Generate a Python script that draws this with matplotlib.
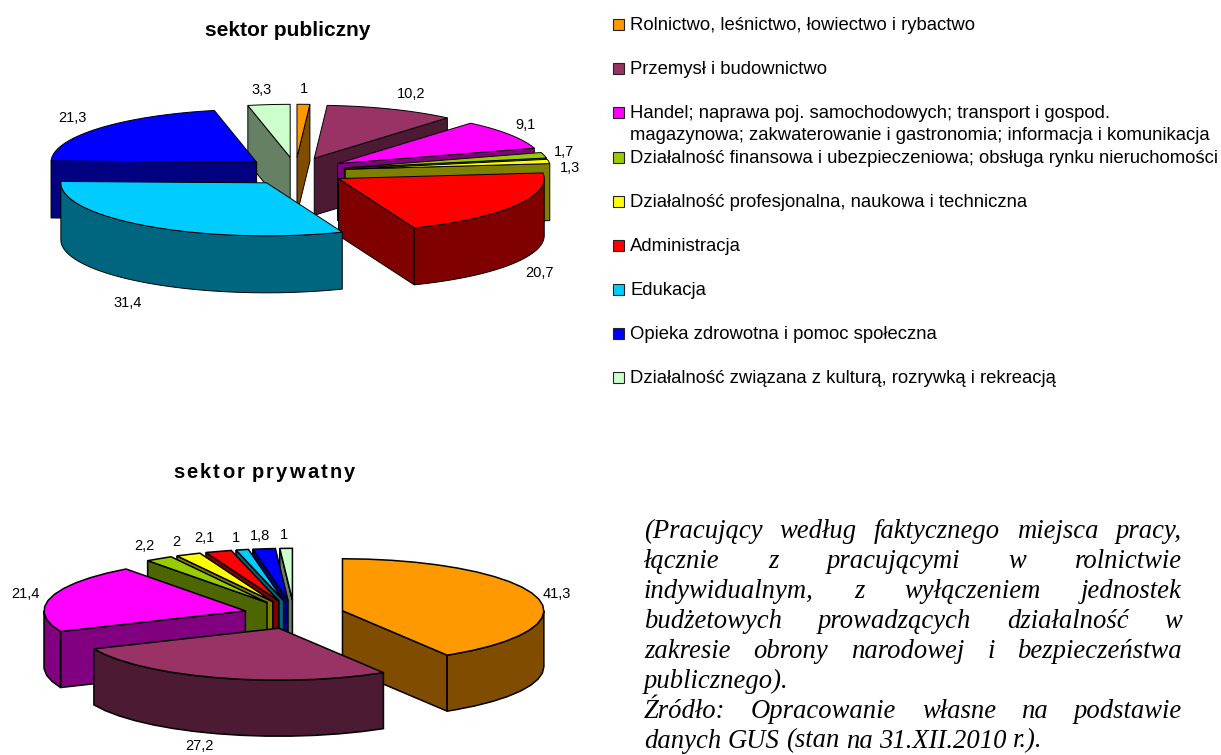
# -*- coding: utf-8 -*-
import numpy as np
import matplotlib
matplotlib.use("Agg")
import matplotlib.pyplot as plt
from matplotlib.colors import to_rgb
from matplotlib.patches import Polygon, Rectangle

plt.rcParams['font.family'] = ['Liberation Sans', 'DejaVu Sans']

categories = [
    "Rolnictwo, leśnictwo, łowiectwo i rybactwo",
    "Przemysł i budownictwo",
    "Handel; naprawa poj. samochodowych; transport i gospod.\nmagazynowa; zakwaterowanie i gastronomia; informacja i komunikacja",
    "Działalność finansowa i ubezpieczeniowa; obsługa rynku nieruchomości",
    "Działalność profesjonalna, naukowa i techniczna",
    "Administracja",
    "Edukacja",
    "Opieka zdrowotna i pomoc społeczna",
    "Działalność związana z kulturą, rozrywką i rekreacją",
]
colors = ["#FF9900", "#993366", "#FF00FF", "#99CC00", "#FFFF00",
          "#FF0000", "#00CCFF", "#0000FF", "#CCFFCC"]

public_values = [1, 10.2, 9.1, 1.7, 1.3, 20.7, 31.4, 21.3, 3.3]
public_labels = ["1", "10,2", "9,1", "1,7", "1,3", "20,7", "31,4", "21,3", "3,3"]
private_values = [41.3, 27.2, 21.4, 2.2, 2, 2.1, 1, 1.8, 1]
private_labels = ["41,3", "27,2", "21,4", "2,2", "2", "2,1", "1", "1,8", "1"]

# layout, in pixels of the picture
public_label_xy = [(304, 89), (411, 94), (526, 125), (564, 152), (570, 168),
                   (539, 273), (128, 303), (72, 118), (262, 90)]
private_label_xy = [(557, 594), (199, 746), (25, 594), (144, 546), (176, 542),
                    (204, 538), (236, 538), (260, 536), (284, 535)]
legend_y = [24, 68, 112, 157, 201, 245, 289, 333, 377]

note_lines = [
    ("(Pracujący według faktycznego miejsca pracy,", True),
    ("łącznie z pracującymi w rolnictwie", True),
    ("indywidualnym, z wyłączeniem jednostek", True),
    ("budżetowych prowadzących działalność w", True),
    ("zakresie obrony narodowej i bezpieczeństwa", True),
    ("publicznego).", False),
    ("Źródło: Opracowanie własne na podstawie", True),
    ("danych GUS (stan na 31.XII.2010 r.).", False),
]


def pt(center, rx, ry, deg):
    a = np.radians(deg)
    return np.array([center[0] + rx * np.sin(a), center[1] - ry * np.cos(a)])


def draw_pie(ax, values, cx, cy, rx, ry, depth, explode, step, lw):
    edges = np.cumsum([0] + list(values)) / sum(values) * 360
    order = sorted(range(len(values)),
                   key=lambda i: -np.cos(np.radians((edges[i] + edges[i + 1]) / 2)))
    for i in order:
        t0, t1 = edges[i], edges[i + 1]
        mid = (t0 + t1) / 2
        apex = pt((cx, cy), rx * explode[0], ry * explode[1], mid)
        top = np.array(colors_rgb[i])
        side = top * 0.5
        down = np.array([0, depth])
        arc = [pt(apex, rx, ry, d) for d in list(np.arange(t0, t1, step)) + [t1]]

        # side faces, only those turned to the viewer
        if np.sin(np.radians(t0)) < 0:
            face = [apex, arc[0], arc[0] + down, apex + down]
            ax.add_patch(Polygon(face, fc=side, ec='k', lw=lw))
        if np.sin(np.radians(t1)) > 0:
            face = [apex, arc[-1], arc[-1] + down, apex + down]
            ax.add_patch(Polygon(face, fc=side, ec='k', lw=lw))
        lo, hi = max(t0, 90), min(t1, 270)
        if lo < hi:
            front = [pt(apex, rx, ry, d) for d in list(np.arange(lo, hi, step)) + [hi]]
            face = front + [p + down for p in front[::-1]]
            ax.add_patch(Polygon(face, fc=side, ec='k', lw=lw))

        ax.add_patch(Polygon([apex] + arc, fc=top, ec='k', lw=lw))


def draw_justified(ax, fig, text, x0, x1, y, justify, **kw):
    words = text.split(" ")
    renderer = fig.canvas.get_renderer()
    items = [ax.text(x0, y, w, va='baseline', ha='left', **kw) for w in words]
    widths = [t.get_window_extent(renderer).width for t in items]
    space = 6.4
    if justify:
        space = (x1 - x0 - sum(widths)) / (len(words) - 1)
    x = x0
    for t, w in zip(items, widths):
        t.set_x(x)
        x += w + space


def draw_spaced(ax, fig, text, x0, x1, y, word_gap, **kw):
    # title with wider letter spacing, one glyph at a time
    renderer = fig.canvas.get_renderer()
    glyphs = []
    x = 0
    for word in text.split(" "):
        for ch in word:
            t = ax.text(x0, y, ch, ha='left', va='baseline', **kw)
            w = t.get_window_extent(renderer).width
            glyphs.append((t, x, w))
            x += w
        x += word_gap
    x -= word_gap
    gap = (x1 - x0 - x) / (len(glyphs) - 1)
    for i, (t, pos, w) in enumerate(glyphs):
        t.set_x(x0 + pos + i * gap)


colors_rgb = [to_rgb(c) for c in colors]

fig = plt.figure(figsize=(12.21, 7.55), dpi=100)
ax = fig.add_axes([0, 0, 1, 1])
ax.set_xlim(0, 1221)
ax.set_ylim(755, 0)
ax.axis('off')

draw_pie(ax, public_values, 295.4, 171.3, 205.7, 53, 57, (0.245, 0.265), 2, 0.7)
draw_pie(ax, private_values, 294, 614.6, 201.4, 52, 56, (0.25, 0.275), 7, 1.1)

for txt, (x, y) in zip(public_labels, public_label_xy):
    ax.text(x, y, txt, ha='center', va='center', fontsize=10.5)
for txt, (x, y) in zip(private_labels, private_label_xy):
    ax.text(x, y, txt, ha='center', va='center', fontsize=10.5)

ax.text(288, 30, "sektor publiczny", ha='center', va='center', fontsize=15, fontweight='bold')

for name, col, y in zip(categories, colors, legend_y):
    ax.add_patch(Rectangle((612.5, y - 5.5), 11, 11, fc=col, ec='#222222', lw=0.8))
    if "\n" in name:
        first, second = name.split("\n")
        ax.text(630, y + 1.5, first, va='center', ha='left', fontsize=13.3)
        ax.text(630, y + 23.5, second, va='center', ha='left', fontsize=13.3)
    else:
        ax.text(630, y + 1.5, name, va='center', ha='left', fontsize=13.3)

fig.canvas.draw()
draw_spaced(ax, fig, "sektor prywatny", 173, 355, 478, 5, fontsize=14.5, fontweight='bold')
for i, (line, just) in enumerate(note_lines):
    draw_justified(ax, fig, line, 644, 1182, 537.5 + i * 30.0, just,
                   family=['Liberation Serif'], style='italic', fontsize=19.2)

fig.savefig("out.png", dpi=100, facecolor='white')
